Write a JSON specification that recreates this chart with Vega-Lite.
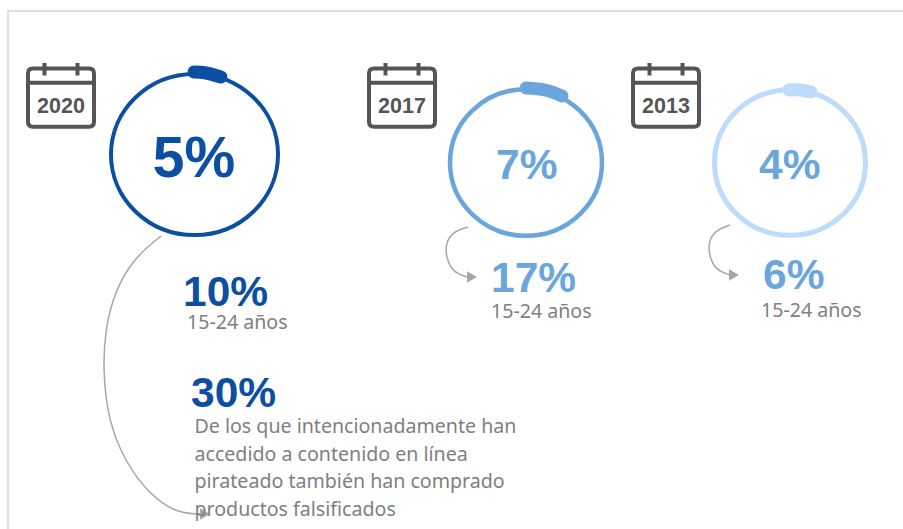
{"$schema":"https://vega.github.io/schema/vega-lite/v6.json","width":903,"height":529,"padding":0,"autosize":{"type":"none"},"background":"#ffffff","view":{"stroke":null},
"encoding":{"x":{"field":"x","type":"quantitative","axis":null,"scale":{"domain":[0,903],"nice":false,"zero":false}},"y":{"field":"y","type":"quantitative","axis":null,"scale":{"domain":[529,0],"nice":false,"zero":false}}},
"resolve":{"scale":{"color":"independent"}},
"layer":[
{"data":{"values":[{"i":0,"x":8,"y":529},{"i":1,"x":8,"y":11},{"i":2,"x":903,"y":11}]},"mark":{"type":"line","stroke":"#e0e0e0","strokeWidth":2},"encoding":{"order":{"field":"i"}}},
{"data":{"values":[{"year":"2020","x":194.5,"y":154.5},{"year":"2017","x":526,"y":162.5},{"year":"2013","x":790,"y":162.5}]},"mark":{"type":"point","filled":false,"opacity":1,"shape":"M-1 0A1 0.965 0 1 1 1 0A1 0.965 0 1 1 -1 0Z"},"encoding":{"size":{"field":"year","type":"nominal","legend":null,"scale":{"type":"ordinal","domain":["2020","2017","2013"],"range":[27889,23104,22801]}},"strokeWidth":{"field":"year","type":"nominal","legend":null,"scale":{"type":"ordinal","domain":["2020","2017","2013"],"range":[4,4.5,5]}},"color":{"field":"year","type":"nominal","legend":null,"scale":{"domain":["2020","2017","2013"],"range":["#0b4ea2","#6aa6dc","#bddbfa"]}}}},
{"data":{"values":[{"year":"2020","i":0,"x":194,"y":72},{"year":"2020","i":1,"x":206,"y":73},{"year":"2020","i":2,"x":221,"y":77},{"year":"2017","i":0,"x":526,"y":88},{"year":"2017","i":1,"x":545,"y":90},{"year":"2017","i":2,"x":562,"y":96},{"year":"2013","i":0,"x":789,"y":90},{"year":"2013","i":1,"x":800,"y":90},{"year":"2013","i":2,"x":811,"y":92}]},"mark":{"type":"line","strokeCap":"round","strokeJoin":"round","interpolate":"cardinal","strokeWidth":13},"encoding":{"detail":{"field":"year"},"order":{"field":"i"},"color":{"field":"year","type":"nominal","legend":null,"scale":{"domain":["2020","2017","2013"],"range":["#0b4ea2","#6aa6dc","#bddbfa"]}}}},
{"data":{"values":[{"year":"2020","x":61,"y":96},{"year":"2017","x":402,"y":96},{"year":"2013","x":666,"y":96}]},"mark":{"type":"point","filled":false,"opacity":1,"stroke":"#555555","strokeWidth":4,"size":4356,"shape":"M-0.85 -0.83H0.85Q1 -0.83 1 -0.68V0.78Q1 0.93 0.85 0.93H-0.85Q-1 0.93 -1 0.78V-0.68Q-1 -0.83 -0.85 -0.83ZM-1 -0.4H1M-0.5 -1V-0.62M0.5 -1V-0.62"}},
{"data":{"values":[{"year":"2020","x":61,"y":112.5},{"year":"2017","x":402,"y":112.5},{"year":"2013","x":666,"y":112.5}]},"mark":{"type":"text","font":"Liberation Sans","fontWeight":"bold","fontSize":21.5,"align":"center","baseline":"alphabetic","color":"#555555"},"encoding":{"text":{"field":"year"}}},
{"data":{"values":[{"c":"a","i":0,"x":161,"y":236},{"c":"a","i":1,"x":135,"y":257},{"c":"a","i":2,"x":115,"y":290},{"c":"a","i":3,"x":105,"y":330},{"c":"a","i":4,"x":103,"y":370},{"c":"a","i":5,"x":108,"y":420},{"c":"a","i":6,"x":125,"y":462},{"c":"a","i":7,"x":150,"y":495},{"c":"a","i":8,"x":175,"y":512},{"c":"a","i":9,"x":195,"y":514},{"c":"a","i":10,"x":204,"y":514},{"c":"b","i":0,"x":468,"y":227},{"c":"b","i":1,"x":452,"y":232},{"c":"b","i":2,"x":445,"y":245},{"c":"b","i":3,"x":447,"y":260},{"c":"b","i":4,"x":453,"y":272},{"c":"b","i":5,"x":467,"y":277},{"c":"c","i":0,"x":730,"y":225},{"c":"c","i":1,"x":714,"y":231},{"c":"c","i":2,"x":708,"y":244},{"c":"c","i":3,"x":710,"y":258},{"c":"c","i":4,"x":716,"y":270},{"c":"c","i":5,"x":730,"y":275}]},"mark":{"type":"line","interpolate":"basis","stroke":"#a6a6a6","strokeWidth":1.5},"encoding":{"detail":{"field":"c"},"order":{"field":"i"}}},
{"data":{"values":[{"x":205,"y":514},{"x":472,"y":277},{"x":734,"y":275}]},"mark":{"type":"point","shape":"triangle-right","filled":true,"opacity":1,"color":"#a6a6a6","size":130}},
{"data":{"values":[{"t":"5%","year":"2020","x":194,"y":177}]},"mark":{"type":"text","font":"Liberation Sans","fontWeight":"bold","fontSize":57,"align":"center","baseline":"alphabetic","color":"#0b4ea2"},"encoding":{"text":{"field":"t"}}},
{"data":{"values":[{"t":"10%","year":"2020","x":183,"y":306},{"t":"30%","year":"2020","x":191,"y":407},{"t":"7%","year":"2017","x":496,"y":179},{"t":"17%","year":"2017","x":491,"y":292},{"t":"4%","year":"2013","x":759,"y":179},{"t":"6%","year":"2013","x":763,"y":289}]},"mark":{"type":"text","font":"Liberation Sans","fontWeight":"bold","fontSize":42.5,"align":"left","baseline":"alphabetic"},"encoding":{"text":{"field":"t"},"color":{"field":"year","type":"nominal","legend":null,"scale":{"domain":["2020","2017","2013"],"range":["#0b4ea2","#6aa6dc","#6aa6dc"]}}}},
{"data":{"values":[{"t":"15-24 años","x":187,"y":329},{"t":"15-24 años","x":491,"y":318},{"t":"15-24 años","x":761,"y":317},{"t":"De los que intencionadamente han","x":194.5,"y":433},{"t":"accedido a contenido en línea","x":194.5,"y":461},{"t":"pirateado también han comprado","x":194.5,"y":488},{"t":"productos falsificados","x":194.5,"y":516}]},"mark":{"type":"text","font":"Noto Sans","fontSize":19.6,"align":"left","baseline":"alphabetic","color":"#808080"},"encoding":{"text":{"field":"t"}}}
]}
